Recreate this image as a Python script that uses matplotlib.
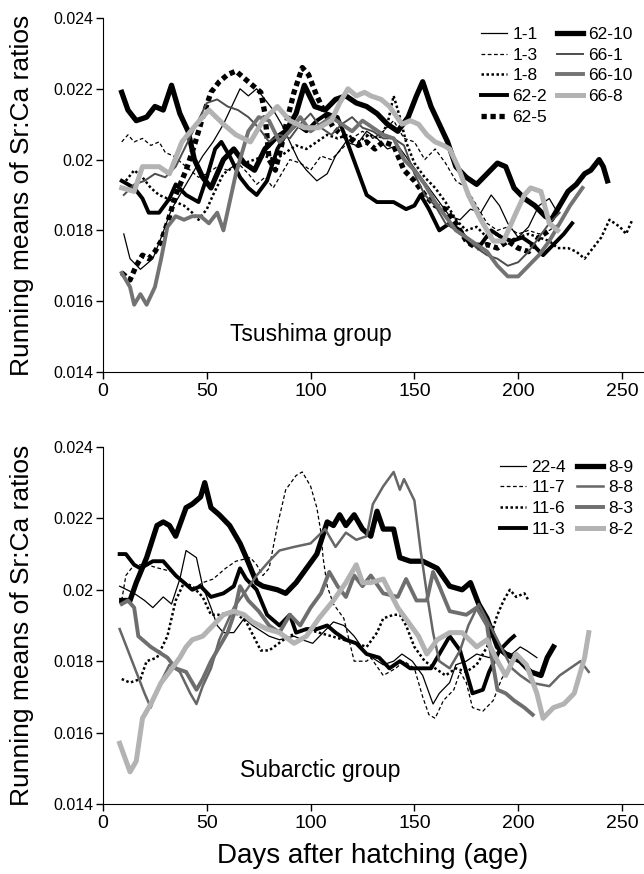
import matplotlib
matplotlib.use("Agg")
import matplotlib.pyplot as plt
from matplotlib.ticker import FuncFormatter

plt.rcParams['font.family'] = ['Liberation Sans', 'DejaVu Sans']

# ---------------- Tsushima group ----------------
d_1_1 = [10, 13, 18, 24, 28, 33, 38, 43, 48, 53, 58, 62, 66, 70, 74, 78, 82, 86, 90, 94,
         98, 103, 108, 112, 117, 122, 127, 132, 137, 142, 147, 152, 157, 162, 167, 172, 177, 182, 187, 191,
         195, 200, 205, 210, 215, 218]
v_1_1 = [.0179, .0172, .0169, .0172, .0178, .0186, .0191, .0196, .0201, .0205, .0210, .0215, .0220, .0218, .0220, .0217, .0214, .0210, .0205, .0200,
         .0197, .0194, .0196, .0201, .0205, .0204, .0208, .0206, .0203, .0204, .0200, .0196, .0192, .0188, .0184, .0183, .0186, .0185, .0190, .0187,
         .0182, .0178, .0181, .0187, .0189, .0186]

d_1_3 = [9, 12, 15, 19, 23, 27, 30, 34, 38, 42, 46, 50, 55, 60, 65, 70, 74, 78, 82, 86,
         90, 95, 100, 105, 110, 115, 120, 125, 130, 135, 140, 145, 150, 155, 160, 165, 170, 175, 180, 185,
         190, 195, 200, 205, 210, 215, 220]
v_1_3 = [.0205, .0207, .0205, .0206, .0204, .0205, .0202, .0201, .0199, .0197, .0195, .0196, .0198, .0197, .0199, .0196, .0193, .0195, .0192, .0196,
         .0200, .0199, .0197, .0201, .0200, .0203, .0206, .0208, .0206, .0208, .0211, .0206, .0205, .0200, .0203, .0199, .0194, .0192, .0187, .0182,
         .0180, .0181, .0179, .0180, .0179, .0180, .0182]

d_1_8 = [11, 15, 19, 23, 27, 31, 35, 39, 43, 46, 50, 53, 58, 63, 68, 73, 78, 83, 88, 93,
         98, 103, 108, 113, 118, 123, 128, 133, 137, 140, 143, 146, 150, 155, 160, 165, 170, 175, 180, 185,
         190, 195, 200, 205, 210, 215, 219, 224, 228, 232, 236, 240, 244, 249, 252, 255]
v_1_8 = [.0194, .0197, .0195, .0192, .0190, .0189, .0188, .0187, .0185, .0183, .0186, .0190, .0196, .0198, .0199, .0200, .0201, .0200, .0202, .0204,
         .0203, .0205, .0207, .0206, .0207, .0205, .0207, .0206, .0210, .0218, .0212, .0205, .0199, .0195, .0192, .0188, .0183, .0180, .0181, .0178,
         .0179, .0177, .0178, .0179, .0178, .0177, .0175, .0175, .0174, .0172, .0175, .0178, .0183, .0181, .0179, .0183]

d_62_2 = [9, 15, 19, 22, 27, 32, 35, 40, 46, 50, 54, 57, 61, 66, 70, 74, 79, 84, 88, 93,
          98, 103, 108, 113, 117, 122, 127, 132, 140, 146, 150, 153, 157, 162, 167, 172, 177, 182, 187, 192,
          197, 202, 207, 212, 217, 222, 226]
v_62_2 = [.0194, .0192, .0189, .0185, .0185, .0189, .0193, .0190, .0188, .0195, .0203, .0205, .0201, .0195, .0192, .0190, .0194, .0203, .0207, .0210,
          .0208, .0211, .0213, .0212, .0206, .0198, .0190, .0188, .0188, .0186, .0187, .0190, .0186, .0180, .0182, .0180, .0176, .0176, .0180, .0178,
          .0177, .0178, .0176, .0173, .0176, .0179, .0182]

d_62_5 = [9, 13, 16, 19, 22, 25, 28, 31, 35, 40, 44, 48, 52, 56, 60, 64, 68, 72, 76, 78,
          80, 83, 86, 89, 92, 96, 99, 103, 107, 111, 115, 119, 123, 127, 131, 135, 140, 145, 150, 155,
          160, 165, 170, 175, 180, 185, 190, 195, 200, 205, 210, 215]
v_62_5 = [.0168, .0166, .0170, .0173, .0172, .0174, .0177, .0182, .0190, .0197, .0204, .0212, .0219, .0222, .0224, .0225, .0223, .0221, .0219, .0213,
          .0200, .0197, .0204, .0212, .0219, .0226, .0224, .0218, .0213, .0209, .0207, .0206, .0204, .0205, .0203, .0205, .0204, .0197, .0194, .0190,
          .0187, .0186, .0182, .0177, .0175, .0176, .0175, .0177, .0175, .0174, .0178, .0180]

d_62_10 = [9, 12, 16, 21, 25, 29, 33, 37, 41, 44, 48, 52, 58, 63, 68, 73, 78, 83, 88, 93,
           97, 102, 107, 112, 117, 122, 127, 132, 137, 142, 147, 151, 154, 158, 162, 166, 170, 175, 180, 185,
           190, 194, 198, 203, 208, 213, 216, 220, 224, 228, 232, 235, 239, 241, 243]
v_62_10 = [.0219, .0214, .0211, .0212, .0215, .0214, .0221, .0213, .0208, .0200, .0195, .0192, .0200, .0203, .0199, .0197, .0203, .0206, .0208, .0213,
           .0221, .0215, .0214, .0217, .0218, .0216, .0215, .0213, .0210, .0208, .0212, .0218, .0222, .0215, .0210, .0205, .0198, .0195, .0193, .0196,
           .0199, .0198, .0192, .0189, .0187, .0184, .0183, .0187, .0191, .0193, .0196, .0197, .0200, .0198, .0194]

d_66_1 = [10, 15, 20, 25, 30, 35, 40, 45, 50, 55, 60, 65, 70, 75, 80, 85, 90, 95, 100, 105,
          110, 115, 120, 125, 130, 135, 140, 145, 150, 155, 160, 165, 170, 175, 180, 185, 190, 195, 200, 205,
          210, 215, 220]
v_66_1 = [.0190, .0193, .0194, .0196, .0195, .0198, .0204, .0210, .0216, .0217, .0215, .0214, .0212, .0209, .0205, .0207, .0206, .0210, .0213, .0209,
          .0207, .0210, .0212, .0209, .0208, .0206, .0206, .0204, .0196, .0190, .0187, .0182, .0180, .0178, .0175, .0173, .0172, .0170, .0171, .0174,
          .0178, .0182, .0185]

d_66_10 = [9, 13, 15, 18, 21, 25, 28, 31, 35, 39, 43, 47, 51, 55, 58, 61, 64, 67, 70, 75,
           80, 85, 90, 95, 100, 105, 110, 115, 120, 125, 130, 135, 140, 145, 150, 155, 160, 165, 170, 175,
           180, 185, 190, 195, 200, 205, 210, 215, 220, 225, 231]
v_66_10 = [.0168, .0164, .0159, .0162, .0159, .0164, .0172, .0181, .0184, .0183, .0184, .0184, .0182, .0185, .0180, .0188, .0196, .0202, .0208, .0212,
           .0211, .0205, .0208, .0212, .0208, .0210, .0212, .0210, .0208, .0211, .0209, .0207, .0206, .0200, .0197, .0193, .0188, .0184, .0180, .0178,
           .0176, .0174, .0170, .0167, .0167, .0170, .0173, .0177, .0182, .0187, .0192]

d_66_8 = [9, 15, 19, 27, 32, 38, 45, 51, 58, 64, 71, 77, 84, 90, 97, 104, 110, 114, 118, 122,
          126, 129, 134, 138, 144, 148, 152, 156, 160, 164, 167, 171, 176, 182, 188, 193, 196, 199, 203, 206,
          211, 215, 219]
v_66_8 = [.0192, .0191, .0198, .0198, .0196, .0205, .0210, .0214, .0210, .0207, .0205, .0211, .0215, .0211, .0209, .0209, .0211, .0216, .0220, .0218,
          .0219, .0218, .0217, .0215, .0210, .0211, .0210, .0207, .0205, .0204, .0203, .0198, .0190, .0183, .0177, .0177, .0181, .0185, .0190, .0192,
          .0191, .0182, .0180]

# ---------------- Subarctic group ----------------
d_22_4 = [8, 15, 20, 24, 29, 33, 37, 40, 45, 48, 52, 55, 58, 63, 68, 72, 80, 85, 92, 96,
          101, 106, 111, 116, 121, 127, 135, 140, 144, 149, 154, 159, 162, 167, 170, 175, 180, 186, 192, 197,
          201, 204, 209]
v_22_4 = [.0201, .0199, .0197, .0195, .0198, .0196, .0203, .0211, .0209, .0201, .0195, .0190, .0188, .0188, .0192, .0190, .0187, .0186, .0187, .0186,
          .0185, .0188, .0191, .0190, .0187, .0182, .0179, .0180, .0182, .0180, .0176, .0168, .0171, .0174, .0179, .0180, .0182, .0181, .0183, .0182,
          .0184, .0183, .0181]

d_11_7 = [9, 11, 15, 21, 27, 34, 39, 43, 48, 53, 59, 64, 71, 74, 77, 80, 84, 88, 93, 96,
          100, 103, 105, 106, 108, 111, 116, 121, 127, 129, 135, 141, 145, 150, 154, 157, 160, 164, 169, 172,
          175, 178, 183, 188, 192, 195]
v_11_7 = [.0197, .0204, .0207, .0207, .0206, .0205, .0202, .0200, .0202, .0203, .0206, .0208, .0209, .0207, .0204, .0206, .0218, .0228, .0232, .0233,
          .0229, .0223, .0216, .0209, .0201, .0196, .0192, .0180, .0180, .0181, .0176, .0178, .0180, .0178, .0170, .0165, .0164, .0169, .0172, .0177,
          .0174, .0167, .0166, .0169, .0175, .0178]

d_11_6 = [9, 13, 18, 21, 26, 31, 35, 39, 43, 48, 52, 56, 63, 69, 76, 80, 87, 93, 98, 104,
          110, 116, 122, 127, 132, 135, 140, 143, 146, 150, 155, 160, 165, 170, 175, 180, 185, 190, 193, 196,
          199, 203, 205]
v_11_6 = [.0175, .0174, .0175, .0180, .0181, .0187, .0197, .0202, .0201, .0198, .0193, .0193, .0194, .0191, .0183, .0183, .0186, .0188, .0189, .0188,
          .0187, .0186, .0185, .0184, .0188, .0192, .0193, .0193, .0190, .0184, .0180, .0178, .0176, .0178, .0177, .0179, .0184, .0193, .0197, .0200,
          .0198, .0199, .0197]

d_11_3 = [8, 11, 15, 18, 24, 29, 35, 39, 43, 47, 52, 58, 63, 66, 69, 74, 79, 85, 90, 93,
          98, 103, 108, 112, 117, 122, 127, 133, 138, 143, 148, 153, 158, 163, 167, 172, 175, 178, 183, 186,
          191, 196, 198]
v_11_3 = [.0210, .0210, .0207, .0206, .0208, .0208, .0204, .0202, .0200, .0201, .0198, .0199, .0201, .0206, .0203, .0200, .0193, .0190, .0193, .0188,
          .0189, .0189, .0190, .0188, .0186, .0185, .0182, .0181, .0178, .0180, .0178, .0178, .0178, .0183, .0187, .0183, .0177, .0171, .0172, .0177,
          .0183, .0186, .0187]

d_8_9 = [9, 13, 16, 21, 26, 29, 32, 35, 40, 43, 47, 49, 52, 56, 61, 66, 69, 74, 77, 84,
         88, 93, 98, 103, 108, 111, 114, 117, 121, 125, 129, 132, 135, 140, 143, 148, 154, 161, 167, 173,
         177, 181, 185, 190, 194, 201, 206, 211, 214, 217]
v_8_9 = [.0197, .0197, .0202, .0209, .0218, .0219, .0218, .0215, .0223, .0224, .0226, .0230, .0223, .0221, .0218, .0213, .0209, .0202, .0201, .0200,
         .0199, .0202, .0206, .0210, .0219, .0218, .0221, .0218, .0221, .0217, .0215, .0222, .0217, .0217, .0209, .0208, .0208, .0206, .0201, .0200,
         .0202, .0196, .0192, .0184, .0182, .0180, .0177, .0176, .0181, .0184]

d_8_8 = [8, 12, 16, 20, 23, 26, 32, 37, 42, 45, 48, 52, 56, 63, 68, 74, 80, 85, 92, 100,
         107, 112, 117, 122, 127, 130, 135, 140, 143, 145, 150, 153, 156, 159, 162, 167, 172, 176, 181, 190,
         197, 201, 206, 215, 220, 225, 230, 234]
v_8_8 = [.0189, .0183, .0177, .0171, .0167, .0172, .0179, .0177, .0171, .0168, .0173, .0178, .0186, .0195, .0199, .0204, .0208, .0211, .0212, .0213,
         .0217, .0212, .0216, .0214, .0215, .0224, .0229, .0233, .0228, .0231, .0225, .0211, .0199, .0188, .0180, .0178, .0183, .0190, .0196, .0186,
         .0178, .0176, .0174, .0173, .0176, .0178, .0180, .0177]

d_8_3 = [9, 12, 15, 17, 23, 31, 35, 40, 45, 48, 52, 60, 63, 66, 70, 75, 80, 85, 90, 95,
         100, 105, 109, 113, 117, 121, 125, 129, 135, 142, 146, 151, 156, 159, 162, 167, 175, 180, 185, 187,
         190, 194, 198, 203, 207]
v_8_3 = [.0196, .0197, .0195, .0187, .0184, .0181, .0178, .0177, .0172, .0175, .0180, .0188, .0193, .0201, .0197, .0194, .0190, .0188, .0193, .0190,
         .0195, .0199, .0205, .0201, .0198, .0204, .0201, .0204, .0199, .0198, .0203, .0197, .0197, .0205, .0201, .0194, .0193, .0195, .0190, .0182,
         .0172, .0171, .0169, .0167, .0165]

d_8_2 = [8, 13, 16, 19, 23, 28, 32, 37, 40, 43, 48, 53, 58, 63, 68, 72, 79, 85, 92, 98,
         104, 111, 117, 122, 125, 129, 135, 142, 147, 152, 156, 161, 167, 173, 180, 185, 190, 194, 199, 204,
         209, 212, 217, 222, 227, 232, 234]
v_8_2 = [.0157, .0149, .0152, .0164, .0168, .0174, .0177, .0181, .0184, .0186, .0187, .0190, .0193, .0194, .0193, .0191, .0189, .0188, .0185, .0187,
         .0192, .0197, .0202, .0207, .0202, .0202, .0203, .0195, .0191, .0187, .0182, .0186, .0188, .0188, .0184, .0186, .0180, .0176, .0182, .0179,
         .0171, .0164, .0167, .0168, .0171, .0181, .0188]

x_ticks = [0, 50, 100, 150, 200, 250]
y_ticks = [0.014, 0.016, 0.018, 0.020, 0.022, 0.024]

fig = plt.figure(figsize=(6.44, 8.74), dpi=100)
ax1 = fig.add_axes([0.16, 0.5744, 0.838, 0.405])
ax2 = fig.add_axes([0.16, 0.0801, 0.838, 0.4085])

dash = (0, (3, 2))
dots = (0, (1, 1))
squares = (0, (1, 0.7))

# Tsushima
ax1.plot(d_1_1, v_1_1, color='black', lw=0.9, label='1-1')
ax1.plot(d_1_3, v_1_3, color='black', lw=0.9, ls=dash, label='1-3')
ax1.plot(d_1_8, v_1_8, color='black', lw=1.8, ls=dots, label='1-8')
ax1.plot(d_62_2, v_62_2, color='black', lw=2.8, label='62-2')
ax1.plot(d_62_5, v_62_5, color='black', lw=3.8, ls=squares, dash_capstyle='butt', label='62-5')
ax1.plot(d_62_10, v_62_10, color='black', lw=3.8, label='62-10')
ax1.plot(d_66_1, v_66_1, color='#4d4d4d', lw=1.4, label='66-1')
ax1.plot(d_66_10, v_66_10, color='#737373', lw=2.8, label='66-10')
ax1.plot(d_66_8, v_66_8, color='#b3b3b3', lw=3.6, label='66-8')

# Subarctic
ax2.plot(d_22_4, v_22_4, color='black', lw=0.9, label='22-4')
ax2.plot(d_11_7, v_11_7, color='black', lw=0.9, ls=dash, label='11-7')
ax2.plot(d_11_6, v_11_6, color='black', lw=1.8, ls=dots, label='11-6')
ax2.plot(d_11_3, v_11_3, color='black', lw=2.8, label='11-3')
ax2.plot(d_8_9, v_8_9, color='black', lw=3.8, label='8-9')
ax2.plot(d_8_8, v_8_8, color='#666666', lw=1.8, label='8-8')
ax2.plot(d_8_3, v_8_3, color='#6e6e6e', lw=2.8, label='8-3')
ax2.plot(d_8_2, v_8_2, color='#b3b3b3', lw=3.6, label='8-2')

fmt = FuncFormatter(lambda v, pos: f"{v:g}")
for ax, top in ((ax1, 0.975), (ax2, 0.965)):
    ax.set_xlim(0, 260)
    ax.set_ylim(0.014, 0.024)
    ax.set_xticks(x_ticks)
    ax.set_yticks(y_ticks)
    ax.yaxis.set_major_formatter(fmt)
    ax.spines['top'].set_visible(False)
    ax.spines['right'].set_visible(False)
    ax.tick_params(axis='x', labelsize=14, length=5, width=1, pad=3)
    ax.tick_params(axis='y', labelsize=11.5, length=5, width=1, pad=2)
    ax.set_ylabel('Running means of Sr:Ca ratios', fontsize=19)
    ax.yaxis.set_label_coords(-0.128, 0.5)
    ax.legend(ncol=2, loc='upper right', frameon=False, fontsize=12.5,
              handlelength=1.5, handletextpad=0.3, columnspacing=0.6,
              labelspacing=0.32, borderaxespad=0, borderpad=0,
              bbox_to_anchor=(0.982, top))

ax1.text(100, 0.01505, 'Tsushima group', fontsize=16.5, ha='center', va='center')
ax2.text(104.5, 0.01495, 'Subarctic group', fontsize=16.5, ha='center', va='center')
ax2.set_xlabel('Days after hatching (age)', fontsize=20, labelpad=8)

fig.savefig('out.png', dpi=100, facecolor='white')
